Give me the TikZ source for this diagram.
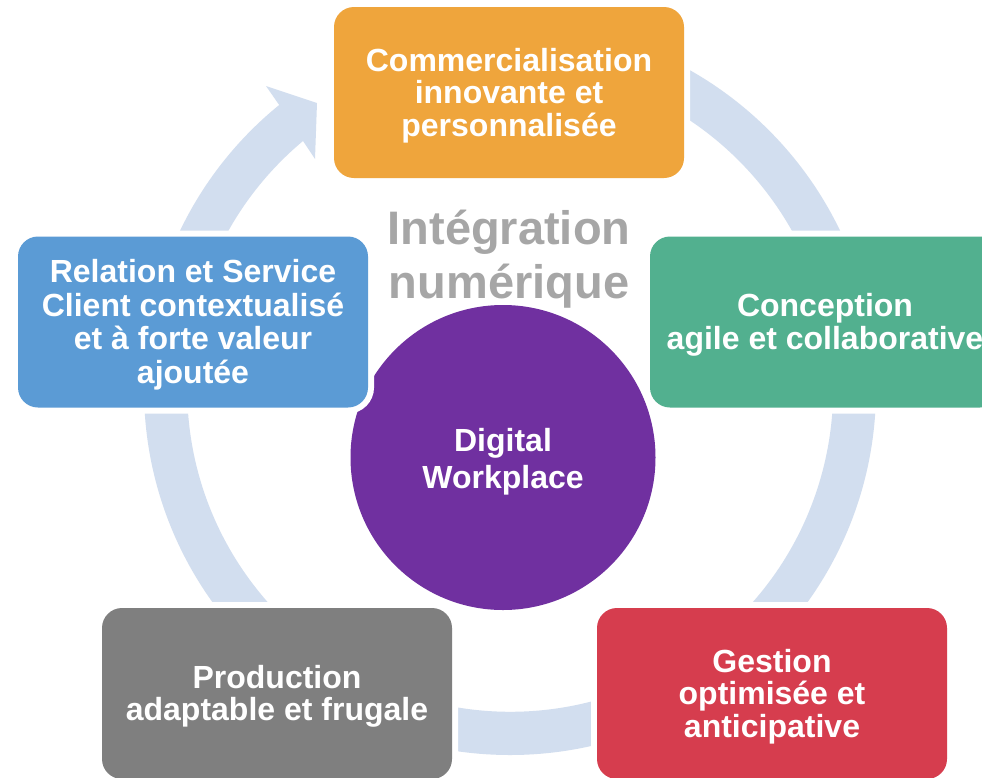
\documentclass[tikz,border=0pt]{standalone}
\usepackage{fontspec}
\setmainfont{Liberation Sans}
\definecolor{cOrange}{HTML}{EFA53C}
\definecolor{cGreen}{HTML}{52B08F}
\definecolor{cBlue}{HTML}{5B9BD5}
\definecolor{cGray}{HTML}{7F7F7F}
\definecolor{cRed}{HTML}{D63D4E}
\definecolor{cPurple}{HTML}{7030A0}
\definecolor{cRing}{HTML}{D2DEEF}
\definecolor{cTxtGray}{HTML}{A6A6A6}
\newcommand{\boxstrut}{\rule{0pt}{29pt}}
\newcommand{\hubstrut}{\rule{0pt}{31pt}}
\begin{document}
\begin{tikzpicture}[x=1pt,y=-1pt,
  box/.style={rounded corners=20pt, minimum width=350pt, minimum height=171pt,
    inner sep=0pt, text=white, align=center,
    font=\fontsize{32}{32.5}\selectfont\bfseries,
    preaction={draw=white, line width=12pt}},
  hub/.style={circle, minimum size=305pt, inner sep=0pt, text=white, align=center,
    font=\fontsize{32}{37}\selectfont\bfseries},
  title/.style={text=cTxtGray, align=center, inner sep=0pt,
    font=\fontsize{47}{54}\selectfont\bfseries},
  ring/.style={fill=cRing}
]
\clip (0,0) rectangle (982,777);
\fill[white] (0,0) rectangle (982,777);
% circular arrow
\coordinate (rc) at (510,389);
\coordinate (barbA) at (266,86);
\coordinate (tip) at (317,103);
\coordinate (barbB) at (315,159);
\coordinate (notchB) at (303,141);
\fill[ring] (rc) ++(-90:366) arc[start angle=-90, end angle=230.9, radius=366]
  -- (barbA) -- (tip) -- (barbB) -- (notchB)
  arc[start angle=230.1, end angle=-90, radius=323] -- cycle;
% hub
\node[hub, fill=cPurple] (dw) at (503,457.5) {\hubstrut Digital\\Workplace};
\node[title] (ig) at (509,259) {Intégration\\numérique};
% boxes
\node[box, fill=cOrange] (com) at (509,92.5) {\boxstrut Commercialisation\\innovante et\\personnalisée};
\node[box, fill=cGreen] (con) at (825,322) {\boxstrut Conception\\agile et collaborative};
\node[box, fill=cRed] (ges) at (772,693.5) {\boxstrut Gestion\\optimisée et\\anticipative};
\node[box, fill=cGray] (pro) at (277,693.5) {\boxstrut Production\\adaptable et frugale};
\node[box, fill=cBlue, font=\fontsize{32}{33.5}\selectfont\bfseries] (rel) at (193,322)
  {\boxstrut Relation et Service\\Client contextualisé\\et à forte valeur\\ajoutée};
\end{tikzpicture}
\end{document}
